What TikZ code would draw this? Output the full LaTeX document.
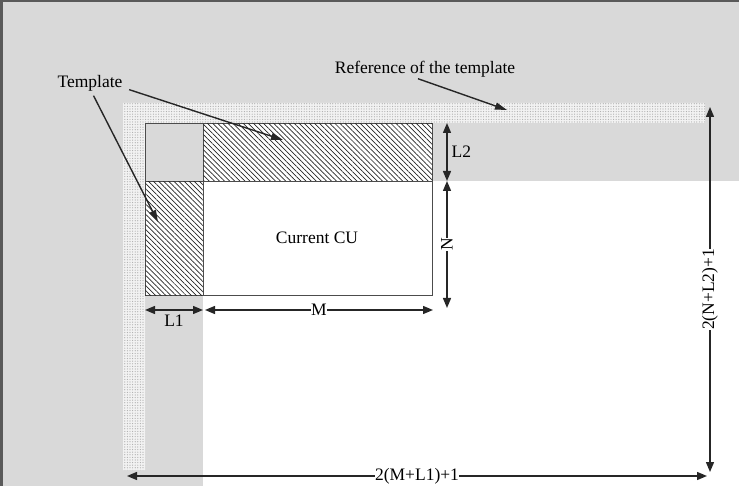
\documentclass[tikz,border=0pt]{standalone}
\usepackage{fontspec}
\setmainfont{Liberation Serif}
\usetikzlibrary{positioning,patterns.meta,arrows.meta}
\definecolor{bggray}{HTML}{D9D9D9}
\definecolor{framegray}{HTML}{5A5A5A}
\definecolor{dotbg}{HTML}{F2F2F2}
\tikzset{
  every node/.style={text=black, font=\fontsize{17.5}{20}\selectfont, inner sep=1pt},
  every path/.style={line width=1.4pt},
  box/.style={draw=gray!60!black, line width=0.9pt, anchor=north west, inner sep=0pt},
  hatched/.style={fill=white, postaction={pattern={Lines[angle=-45, distance=3.6pt, line width=0.7pt]}, pattern color=gray!30!black}},
  dim/.style={draw=black!85, {Triangle[length=10pt,width=8pt]}-{Triangle[length=10pt,width=8pt]}},
  pointer/.style={draw=black!85, -{Triangle[length=12pt,width=7pt]}},
  onlabel/.style={fill=white, inner sep=0.5pt}
}

\begin{document}
\begin{tikzpicture}[x=1pt, y=-1pt]
  \useasboundingbox (0,0) rectangle (739,486);
  % Background
  \fill[bggray] (0,0) rectangle (739,486);
  \fill[white] (203,181) rectangle (739,486);
  \draw[framegray, line width=5pt] (0,0) -- (739,0);
  \draw[framegray, line width=5pt] (0,0) -- (0,486);
  % Reference of the template (dotted L)
  \fill[dotbg] (123,103) -- (705,103) -- (705,123) -- (145,123) -- (145,470) -- (123,470) -- cycle;
  \fill[pattern={Dots[distance=2.6pt, radius=0.6pt]}, pattern color=gray!65] (123,103) -- (705,103) -- (705,123) -- (145,123) -- (145,470) -- (123,470) -- cycle;

  % Nodes
  \node (corner) [box, minimum width=58pt, minimum height=58pt] at (145,123) {};
  \node (top) [box, hatched, minimum width=229pt, minimum height=58pt] at (203,123) {};
  \node (left) [box, hatched, minimum width=58pt, minimum height=114pt] at (145,181) {};
  \node (cu) [box, fill=white, minimum width=229pt, minimum height=114pt] at (203,181) {};
  \node (cutext) at (317,238) {Current CU};
  \node (tmpl) at (90,83) {Template};
  \node (ref) at (425,69) {Reference of the template};

  % Arrow ends
  \coordinate (tiptop) at (283,140);
  \coordinate (tipleft) at (158,222);
  \coordinate (tipref) at (507,110);
  \coordinate (ltop) at (447,123);
  \coordinate (lmid) at (447,181);
  \coordinate (lbot) at (447,308);
  \coordinate (ma) at (145,310);
  \coordinate (mb) at (203,310);
  \coordinate (mc) at (205,310);
  \coordinate (md) at (433,310);
  \coordinate (rtop) at (710,107);
  \coordinate (rbot) at (710,472);
  \coordinate (bleft) at (127,476);
  \coordinate (bright) at (707,476);

  \draw[pointer] ([xshift=5pt, yshift=3pt]tmpl.south east) -- (tiptop);
  \draw[pointer] ([yshift=-3pt]tmpl.-70) -- (tipleft);
  \draw[pointer] ([xshift=-7pt]ref.south) -- (tipref);

  \draw[dim] (ltop) -- node[right=3pt] {L2} (lmid);
  \draw[dim] (lmid) -- node[onlabel, rotate=90] {N} (lbot);
  \draw[dim] (ma) -- node[below=3pt] {L1} (mb);
  \draw[dim] (mc) -- node[onlabel] {M} (md);
  \draw[dim] (rtop) -- node[onlabel, rotate=90] {2(N+L2)+1} (rbot);
  \draw[dim] (bleft) -- node[onlabel] {2(M+L1)+1} (bright);
\end{tikzpicture}
\end{document}
